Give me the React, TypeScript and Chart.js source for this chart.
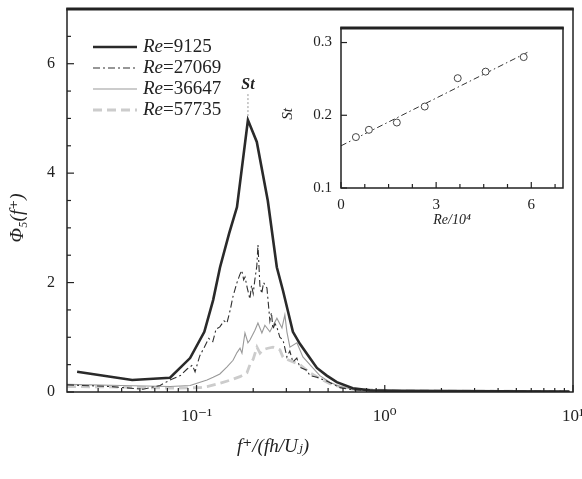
import React, { useEffect, useRef } from "react";
import { Chart, registerables } from "chart.js";
Chart.register(...registerables);

const SERIF = "'Liberation Serif', 'DejaVu Serif', 'Times New Roman', serif";

// ---- main spectra: f+ (x) and Phi_5 (y) ----
const F_9125 = [0.0232, 0.0455, 0.0723, 0.0924, 0.110, 0.1225, 0.1333, 0.149, 0.164, 0.1875, 0.209, 0.239, 0.267, 0.288, 0.325, 0.354, 0.400, 0.436, 0.492, 0.556, 0.676, 0.832, 1.20, 4.07, 9.58];
const V_9125 = [0.37, 0.22, 0.26, 0.62, 1.10, 1.68, 2.28, 2.90, 3.38, 4.97, 4.57, 3.50, 2.28, 1.85, 1.10, 0.88, 0.62, 0.44, 0.30, 0.18, 0.07, 0.03, 0.02, 0.015, 0.01];

const F_27069 = [0.0205, 0.035, 0.052, 0.064, 0.0723, 0.082, 0.0891, 0.095, 0.0982, 0.104, 0.110, 0.116, 0.122, 0.127, 0.133, 0.140, 0.145, 0.151, 0.156, 0.164, 0.170, 0.174, 0.178, 0.181, 0.186, 0.192, 0.196, 0.200, 0.204, 0.209, 0.212, 0.217, 0.222, 0.227, 0.2366, 0.2453, 0.250, 0.2547, 0.261, 0.267, 0.277, 0.288, 0.302, 0.313, 0.325, 0.341, 0.354, 0.385, 0.400, 0.436, 0.492, 0.577, 0.676, 0.832, 1.20, 4.07, 9.58];
const V_27069 = [0.13, 0.10, 0.05, 0.12, 0.22, 0.30, 0.42, 0.49, 0.37, 0.66, 0.82, 0.98, 0.92, 1.15, 1.19, 1.30, 1.26, 1.50, 1.74, 2.00, 2.15, 2.22, 2.05, 2.10, 1.90, 1.70, 1.95, 1.80, 2.05, 2.30, 2.69, 1.95, 1.80, 2.00, 1.90, 1.30, 1.45, 1.15, 1.25, 1.19, 1.00, 0.95, 0.64, 0.75, 0.55, 0.62, 0.45, 0.40, 0.30, 0.27, 0.20, 0.08, 0.04, 0.03, 0.02, 0.015, 0.01];

const F_36647 = [0.0205, 0.040, 0.0723, 0.0924, 0.1044, 0.1137, 0.1225, 0.133, 0.1452, 0.1563, 0.164, 0.1702, 0.1743, 0.1808, 0.1875, 0.1922, 0.2043, 0.2119, 0.2224, 0.2307, 0.2453, 0.2673, 0.2843, 0.2946, 0.302, 0.3133, 0.3414, 0.3673, 0.400, 0.4519, 0.5107, 0.5772, 0.676, 0.832, 1.20, 9.58];
const V_36647 = [0.14, 0.12, 0.10, 0.12, 0.18, 0.22, 0.27, 0.33, 0.46, 0.58, 0.72, 0.80, 0.71, 1.08, 0.90, 0.95, 1.13, 1.26, 1.08, 1.22, 1.10, 1.35, 1.17, 1.41, 1.10, 0.82, 0.90, 0.64, 0.50, 0.30, 0.18, 0.10, 0.05, 0.03, 0.02, 0.01];

const F_57735 = [0.0205, 0.040, 0.0723, 0.1044, 0.1137, 0.130, 0.152, 0.170, 0.1853, 0.1922, 0.200, 0.2094, 0.2173, 0.2252, 0.2393, 0.2547, 0.2773, 0.2877, 0.300, 0.3541, 0.400, 0.4519, 0.5107, 0.5772, 0.676, 1.20, 9.58];
const V_57735 = [0.10, 0.09, 0.07, 0.08, 0.10, 0.15, 0.22, 0.28, 0.35, 0.50, 0.60, 0.82, 0.71, 0.77, 0.80, 0.82, 0.77, 0.64, 0.60, 0.50, 0.35, 0.25, 0.15, 0.10, 0.05, 0.02, 0.01];

const ST_PEAK_F = 0.1875;
const ST_PEAK_V = 4.97;

// ---- main axes ticks ----
const X_TICKS = [0.03, 0.04, 0.05, 0.06, 0.07, 0.08, 0.09, 0.1, 0.2, 0.3, 0.4, 0.5, 0.6, 0.7, 0.8, 0.9, 1, 2, 3, 4, 5, 6, 7, 8, 9, 10];
const X_TICK_LABELS: Record<string, string> = { "0.1": "10⁻¹", "1": "10⁰", "10": "10¹" };
const Y_TICKS = [0, 0.5, 1, 1.5, 2, 2.5, 3, 3.5, 4, 4.5, 5, 5.5, 6, 6.5, 7];
const Y_TICK_LABELS: Record<string, string> = { "0": "0", "2": "2", "4": "4", "6": "6" };

// ---- inset: St vs Re/10^4 ----
const INSET_RE = [0.47, 0.88, 1.76, 2.64, 3.68, 4.56, 5.76];
const INSET_ST = [0.17, 0.18, 0.19, 0.212, 0.251, 0.26, 0.28];
const FIT_RE = [0, 5.9];
const FIT_ST = [0.158, 0.287];
const INSET_X_TICKS = [0, 0.75, 1.5, 2.25, 3, 3.75, 4.5, 5.25, 6, 6.75];
const INSET_X_LABELS: Record<string, string> = { "0": "0", "3": "3", "6": "6" };
const INSET_Y_TICKS = [0.1, 0.2, 0.3];
const INSET_Y_LABELS: Record<string, string> = { "0.1": "0.1", "0.2": "0.2", "0.3": "0.3" };

const SERIES = [
  { re: "9125", f: F_9125, v: V_9125, color: "#2a2a2a", width: 2.6, dash: [] as number[] },
  { re: "27069", f: F_27069, v: V_27069, color: "#303030", width: 1.1, dash: [7, 3, 2, 3] },
  { re: "36647", f: F_36647, v: V_36647, color: "#999999", width: 1.1, dash: [] as number[] },
  { re: "57735", f: F_57735, v: V_57735, color: "#cccccc", width: 2.8, dash: [9, 5] },
];

function line(ctx: CanvasRenderingContext2D, x1: number, y1: number, x2: number, y2: number) {
  ctx.beginPath();
  ctx.moveTo(x1, y1);
  ctx.lineTo(x2, y2);
  ctx.stroke();
}

const mainDeco = {
  id: "mainDeco",
  afterDraw(chart: any) {
    const { ctx, chartArea: a, scales } = chart;
    const xs = scales.x, ys = scales.y;
    ctx.save();
    ctx.strokeStyle = "#222";
    ctx.lineWidth = 1.2;
    xs.ticks.forEach((t: any) => {
      const px = xs.getPixelForValue(t.value);
      const len = X_TICK_LABELS[String(t.value)] ? 7 : 4;
      line(ctx, px, a.bottom, px, a.bottom - len);
    });
    ys.ticks.forEach((t: any) => {
      const py = ys.getPixelForValue(t.value);
      const len = Y_TICK_LABELS[String(t.value)] ? 7 : 4;
      line(ctx, a.left, py, a.left + len, py);
    });
    ctx.lineWidth = 1.5;
    ctx.strokeRect(a.left, a.top, a.right - a.left, a.bottom - a.top);
    ctx.lineWidth = 3;
    line(ctx, a.left - 0.75, a.top, a.right + 0.75, a.top);

    // St marker
    const sx = xs.getPixelForValue(ST_PEAK_F);
    const sy = ys.getPixelForValue(ST_PEAK_V);
    ctx.strokeStyle = "#bbbbbb";
    ctx.lineWidth = 1.5;
    ctx.setLineDash([2, 2]);
    line(ctx, sx, sy - 26, sx, sy - 2);
    ctx.setLineDash([]);
    ctx.fillStyle = "#222";
    ctx.font = `italic bold 16px ${SERIF}`;
    ctx.textAlign = "center";
    ctx.textBaseline = "middle";
    ctx.fillText("St", sx, sy - 35);

    // legend
    SERIES.forEach((s, i) => {
      const y = 47 + i * 21;
      ctx.strokeStyle = s.color;
      ctx.lineWidth = s.width;
      ctx.setLineDash(s.dash);
      line(ctx, 93, y, 137, y);
      ctx.setLineDash([]);
      ctx.fillStyle = "#222";
      ctx.textAlign = "left";
      ctx.textBaseline = "middle";
      ctx.font = `italic 19px ${SERIF}`;
      ctx.fillText("Re", 143, y);
      const w = ctx.measureText("Re").width;
      ctx.font = `19px ${SERIF}`;
      ctx.fillText("=" + s.re, 143 + w, y);
    });

    // axis titles
    ctx.fillStyle = "#222";
    ctx.font = `italic 19px ${SERIF}`;
    ctx.textAlign = "center";
    ctx.textBaseline = "middle";
    ctx.fillText("f⁺/(fh/Uⱼ)", 273, 447);
    ctx.save();
    ctx.translate(18, 218);
    ctx.rotate(-Math.PI / 2);
    ctx.fillText("Φ₅(f⁺)", 0, 0);
    ctx.restore();
    ctx.restore();
  },
};

const insetDeco = {
  id: "insetDeco",
  afterDraw(chart: any) {
    const { ctx, chartArea: a, scales } = chart;
    const xs = scales.x, ys = scales.y;
    ctx.save();
    ctx.strokeStyle = "#222";
    ctx.lineWidth = 1.2;
    xs.ticks.forEach((t: any) => {
      const px = xs.getPixelForValue(t.value);
      const len = INSET_X_LABELS[String(t.value)] ? 6 : 4;
      line(ctx, px, a.bottom, px, a.bottom - len);
    });
    ys.ticks.forEach((t: any) => {
      const py = ys.getPixelForValue(t.value);
      line(ctx, a.left, py, a.left + 6, py);
    });
    ctx.lineWidth = 1.5;
    ctx.strokeRect(a.left, a.top, a.right - a.left, a.bottom - a.top);
    ctx.lineWidth = 3;
    line(ctx, a.left - 0.75, a.top, a.right + 0.75, a.top);

    ctx.fillStyle = "#222";
    ctx.textAlign = "center";
    ctx.textBaseline = "middle";
    ctx.font = `italic 14px ${SERIF}`;
    const cx = (a.left + a.right) / 2;
    ctx.fillText("Re/10⁴", cx, a.bottom + 32);
    ctx.save();
    ctx.translate(8, 94);
    ctx.rotate(-Math.PI / 2);
    ctx.font = `italic 15px ${SERIF}`;
    ctx.fillText("St", 0, 0);
    ctx.restore();
    ctx.restore();
  },
};

export default function App() {
  const mainRef = useRef<HTMLCanvasElement>(null);
  const insetRef = useRef<HTMLCanvasElement>(null);

  useEffect(() => {
    const main = new Chart(mainRef.current as HTMLCanvasElement, {
      type: "line",
      data: {
        datasets: SERIES.map((s) => ({
          label: "Re=" + s.re,
          data: s.f.map((f, i) => ({ x: f, y: s.v[i] })),
          borderColor: s.color,
          borderWidth: s.width,
          borderDash: s.dash,
          pointRadius: 0,
          tension: 0,
          fill: false,
        })),
      },
      options: {
        animation: false,
        responsive: false,
        maintainAspectRatio: false,
        layout: { padding: { top: 9, right: 9, left: 0, bottom: 0 } },
        plugins: { legend: { display: false }, tooltip: { enabled: false } },
        scales: {
          x: {
            type: "logarithmic",
            min: 0.0205,
            max: 10,
            afterBuildTicks: (s: any) => {
              s.ticks = X_TICKS.map((v) => ({ value: v }));
            },
            afterFit: (s: any) => {
              s.height = 87;
              s.paddingLeft = 0;
              s.paddingRight = 0;
            },
            ticks: {
              autoSkip: false,
              maxRotation: 0,
              padding: 14,
              color: "#222",
              font: { family: SERIF, size: 17 },
              callback: (v: any) => X_TICK_LABELS[String(v)] ?? "",
            },
            grid: { display: false, drawTicks: false },
            border: { display: false },
          },
          y: {
            type: "linear",
            min: 0,
            max: 7,
            afterBuildTicks: (s: any) => {
              s.ticks = Y_TICKS.map((v) => ({ value: v }));
            },
            afterFit: (s: any) => {
              s.width = 67;
              s.paddingTop = 0;
              s.paddingBottom = 0;
            },
            ticks: {
              autoSkip: false,
              padding: 12,
              color: "#222",
              font: { family: SERIF, size: 16 },
              callback: (v: any) => Y_TICK_LABELS[String(v)] ?? "",
            },
            grid: { display: false, drawTicks: false },
            border: { display: false },
          },
        },
      },
      plugins: [mainDeco],
    } as any);

    const inset = new Chart(insetRef.current as HTMLCanvasElement, {
      type: "scatter",
      data: {
        datasets: [
          {
            type: "scatter",
            data: INSET_RE.map((x, i) => ({ x, y: INSET_ST[i] })),
            pointStyle: "circle",
            pointRadius: 3.5,
            borderColor: "#444",
            backgroundColor: "#ffffff",
            borderWidth: 1,
          },
          {
            type: "line",
            data: FIT_RE.map((x, i) => ({ x, y: FIT_ST[i] })),
            borderColor: "#333",
            borderWidth: 1,
            borderDash: [6, 3, 1.5, 3],
            pointRadius: 0,
            tension: 0,
            fill: false,
          },
        ],
      },
      options: {
        animation: false,
        responsive: false,
        maintainAspectRatio: false,
        layout: { padding: { top: 8, right: 12, left: 0, bottom: 0 } },
        plugins: { legend: { display: false }, tooltip: { enabled: false } },
        scales: {
          x: {
            type: "linear",
            min: 0,
            max: 7,
            afterBuildTicks: (s: any) => {
              s.ticks = INSET_X_TICKS.map((v) => ({ value: v }));
            },
            afterFit: (s: any) => {
              s.height = 47;
              s.paddingLeft = 0;
              s.paddingRight = 0;
            },
            ticks: {
              autoSkip: false,
              maxRotation: 0,
              padding: 8,
              color: "#222",
              font: { family: SERIF, size: 15 },
              callback: (v: any) => INSET_X_LABELS[String(v)] ?? "",
            },
            grid: { display: false, drawTicks: false },
            border: { display: false },
          },
          y: {
            type: "linear",
            min: 0.1,
            max: 0.32,
            afterBuildTicks: (s: any) => {
              s.ticks = INSET_Y_TICKS.map((v) => ({ value: v }));
            },
            afterFit: (s: any) => {
              s.width = 61;
              s.paddingTop = 0;
              s.paddingBottom = 0;
            },
            ticks: {
              autoSkip: false,
              padding: 9,
              color: "#222",
              font: { family: SERIF, size: 15 },
              callback: (v: any) => INSET_Y_LABELS[String(v)] ?? "",
            },
            grid: { display: false, drawTicks: false },
            border: { display: false },
          },
        },
      },
      plugins: [insetDeco],
    } as any);

    return () => {
      main.destroy();
      inset.destroy();
    };
  }, []);

  return (
    <div style={{ position: "fixed", left: 0, top: 0, width: 582, height: 479, background: "#fff" }}>
      <canvas
        ref={mainRef}
        width={582}
        height={479}
        style={{ position: "absolute", left: 0, top: 0, width: 582, height: 479 }}
      />
      <canvas
        ref={insetRef}
        width={295}
        height={215}
        style={{ position: "absolute", left: 280, top: 20, width: 295, height: 215 }}
      />
    </div>
  );
}
